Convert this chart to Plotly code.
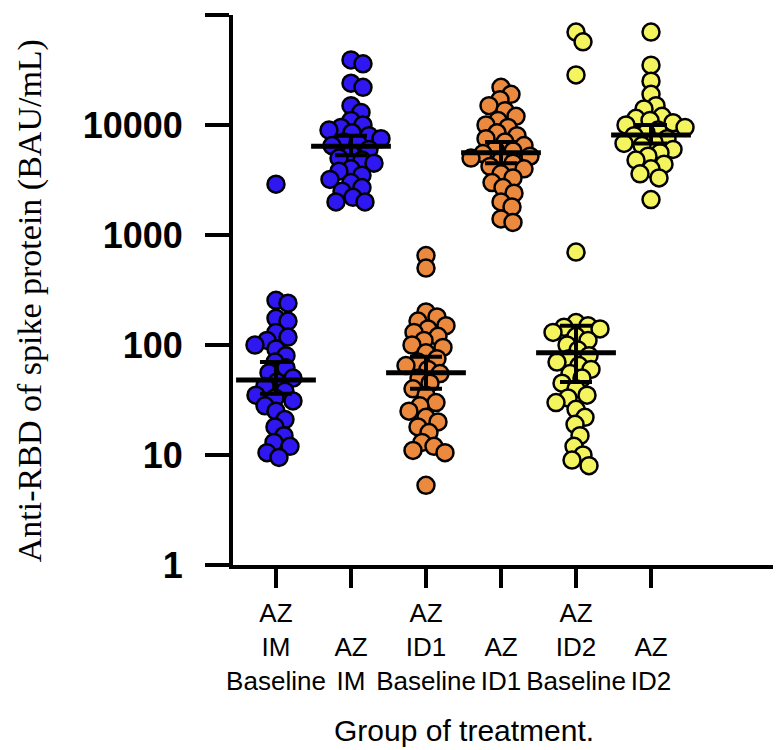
import numpy as np
import plotly.graph_objects as go

# data (BAU/mL)
groups = ["AZ IM Baseline", "AZ IM", "AZ ID1 Baseline", "AZ ID1", "AZ ID2 Baseline", "AZ ID2"]
tick_labels = ["AZ<br>IM<br>Baseline", "<br>AZ<br>IM", "AZ<br>ID1<br>Baseline",
               "<br>AZ<br>ID1", "AZ<br>ID2<br>Baseline", "<br>AZ<br>ID2"]
colors = ["#2F17F2", "#2F17F2", "#EB8A3F", "#EB8A3F", "#F4F45E", "#F4F45E"]

im_base = [2900, 255, 240, 175, 165, 130, 118, 110, 100, 92, 80, 70, 62, 56, 50, 46, 42,
           38, 35, 33, 31, 28, 25, 21, 18, 15, 13, 12, 10.5, 9.5]
im_post = [39000, 36000, 24000, 22000, 15000, 13000, 11000, 10000, 9500, 9000, 8500, 8000,
           7500, 7000, 6800, 6500, 6000, 5500, 5000, 4800, 4500, 4000, 3800, 3500, 3200,
           3000, 2700, 2500, 2200, 2000, 2000]
id1_base = [650, 500, 200, 180, 165, 150, 140, 130, 120, 110, 100, 95, 85, 75, 70, 65, 60,
            55, 50, 45, 40, 35, 30, 28, 25, 22, 20, 18, 16, 13, 12, 11, 10.5, 5.3]
id1_post = [22000, 19000, 17000, 15000, 13500, 12000, 11000, 10000, 9500, 8500, 8000, 7500,
            7000, 6500, 6000, 5800, 5500, 5200, 5000, 4800, 4500, 4200, 4000, 3600, 3300,
            3000, 2700, 2400, 2000, 1800, 1400, 1300]
id2_base = [70000, 57000, 28500, 700, 160, 150, 145, 140, 130, 120, 110, 100, 90, 80, 75,
            70, 65, 60, 55, 50, 45, 40, 35, 33, 30, 26, 22, 19, 15, 12, 10, 9, 8]
id2_post = [70000, 35000, 25000, 19000, 15000, 14000, 12000, 11500, 11000, 10500, 10000,
            9500, 9000, 8500, 8000, 7500, 7000, 6800, 6500, 6000, 5600, 5200, 4800, 4400,
            4000, 3600, 3300, 2100]
values = [im_base, im_post, id1_base, id1_post, id2_base, id2_post]

# mean and SEM bar ends
means = [48, 6400, 56, 5600, 85, 8100]
sem_hi = [70, 8000, 78, 7000, 150, 10000]
sem_lo = [36, 5300, 40, 4500, 46, 6800]


def swarm(vals, diam=12.0, xscale=75.0, yscale=110.0):
    ys = np.log10(vals) * yscale
    offs = np.zeros(len(vals))
    placed = []
    for i in np.argsort(-ys):
        y = ys[i]
        x = None
        for k in range(0, 80):
            for s in ([0] if k == 0 else [1, -1]):
                cand = s * k
                if all((cand - px) ** 2 + (y - py) ** 2 >= diam ** 2 for px, py in placed):
                    x = cand
                    break
            if x is not None:
                break
        placed.append((x, y))
        offs[i] = x / xscale
    return offs


fig = go.Figure()

for i, vals in enumerate(values):
    xs = i + swarm(vals)
    fig.add_trace(go.Scatter(
        x=xs, y=vals, mode="markers", showlegend=False,
        marker=dict(size=17, color=colors[i], line=dict(color="black", width=2.5)),
    ))

fig.add_trace(go.Scatter(
    x=list(range(len(groups))), y=means, mode="markers", showlegend=False,
    marker=dict(symbol="line-ew", size=57, line=dict(color="black", width=5)),
    error_y=dict(type="data", symmetric=False,
                 array=[h - m for h, m in zip(sem_hi, means)],
                 arrayminus=[m - l for m, l in zip(means, sem_lo)],
                 color="black", thickness=4, width=16),
))

# page body has an 8px margin, so the figure is 8px smaller than the window
fig.update_layout(
    width=773, height=742,
    margin=dict(l=225, r=0, t=7, b=185),
    plot_bgcolor="white", paper_bgcolor="white",
    font=dict(family="Liberation Sans, Arial", color="black"),
)

fig.update_xaxes(
    range=[-0.573, 6.733], tickvals=list(range(len(groups))), ticktext=tick_labels,
    tickfont=dict(size=26), showgrid=False, zeroline=False,
    showline=True, linecolor="black", linewidth=4,
    ticks="outside", ticklen=19, tickwidth=4, tickcolor="black", ticklabelstandoff=3,
)
fig.update_yaxes(
    type="log", range=[0, 5], tickvals=[1, 10, 100, 1000, 10000, 100000],
    ticktext=["1", "10", "100", "1000", "10000", "100000"],
    tickfont=dict(size=36, weight="bold"), showgrid=False, zeroline=False,
    showline=True, linecolor="black", linewidth=4,
    ticks="outside", ticklen=24, tickwidth=4, tickcolor="black", ticklabelstandoff=15,
)

fig.add_annotation(
    text="Anti-RBD of spike protein (BAU/mL)", textangle=-90,
    xref="paper", yref="paper", x=-0.370, y=0.48, xanchor="center", yanchor="middle",
    showarrow=False, borderpad=0,
    font=dict(family="Liberation Serif, Times New Roman", size=34),
)
fig.add_annotation(
    text="Group of treatment.", xref="x", yref="paper", x=2.5, y=-0.3,
    xanchor="center", yanchor="middle", showarrow=False, font=dict(size=30),
)

fig.write_html("out.html")
